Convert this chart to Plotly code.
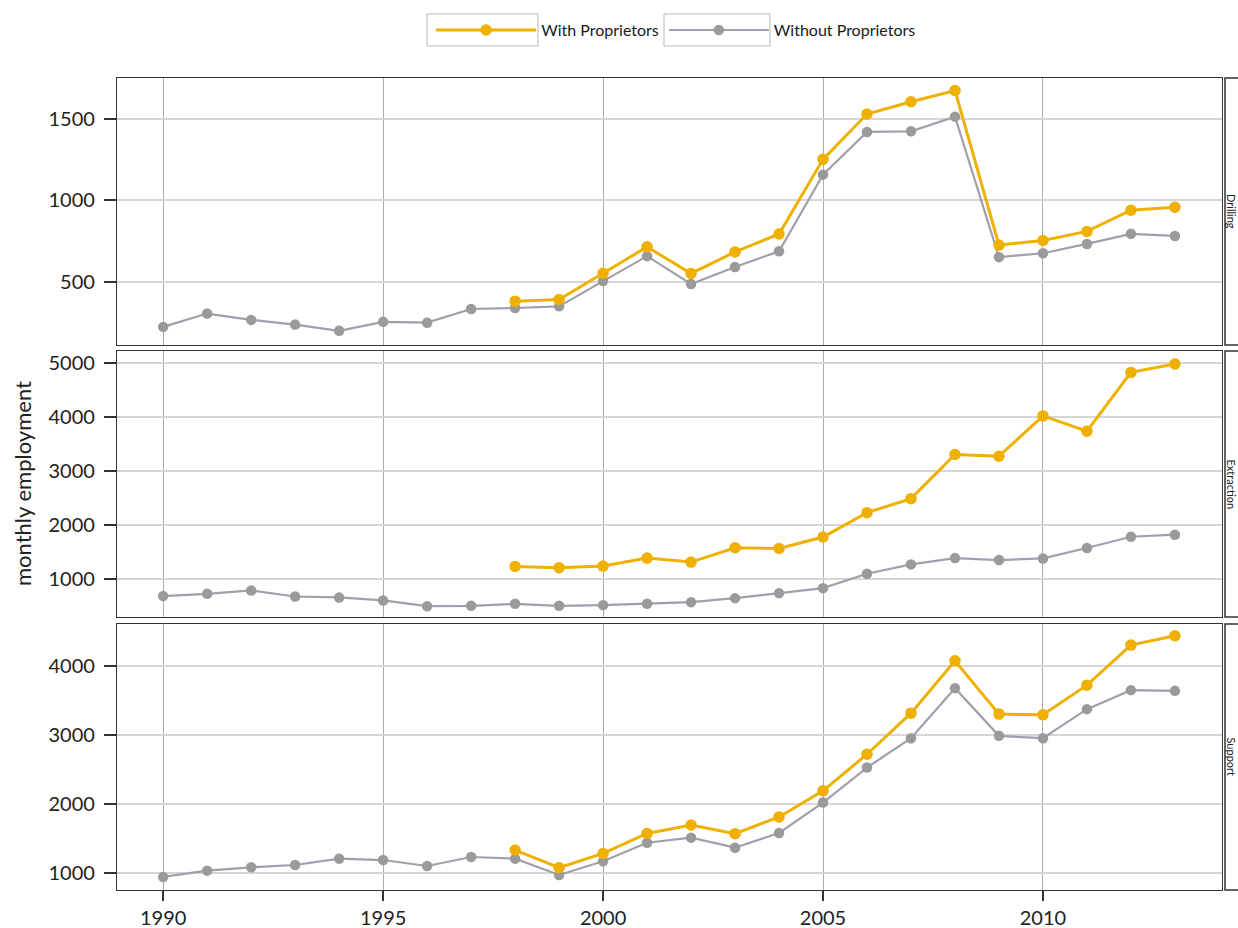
import plotly.graph_objects as go

# ---------------- data ----------------
years = list(range(1990, 2014))
years_with = list(range(1998, 2014))

sectors = ["Drilling", "Extraction", "Support"]

drilling_without = [224, 306, 267, 238, 200, 255, 250, 334, 340, 350, 505, 658,
                    487, 592, 688, 1158, 1420, 1424, 1514, 652, 676, 733, 795, 782]
drilling_with = [382, 392, 553, 715, 552, 684, 794, 1252, 1530, 1605, 1674,
                 726, 754, 810, 940, 958]

extraction_without = [678, 721, 783, 671, 653, 597, 491, 498, 535, 498, 510, 535,
                      566, 640, 733, 826, 1093, 1267, 1384, 1347, 1378, 1571, 1781, 1819]
extraction_with = [1229, 1205, 1236, 1384, 1310, 1577, 1564, 1775, 2228, 2488,
                   3307, 3276, 4025, 3741, 4833, 4988]

support_without = [947, 1038, 1087, 1120, 1212, 1192, 1106, 1236, 1212, 976, 1173, 1442,
                   1516, 1371, 1584, 2024, 2531, 2956, 3681, 2990, 2956, 3377, 3652, 3642]
support_with = [1337, 1082, 1288, 1577, 1700, 1574, 1816, 2194, 2724, 3319,
                4077, 3305, 3295, 3724, 4305, 4440]

without_series = [drilling_without, extraction_without, support_without]
with_series = [drilling_with, extraction_with, support_with]

y_ticks = [[500, 1000, 1500], [1000, 2000, 3000, 4000, 5000], [1000, 2000, 3000, 4000]]
x_ticks = [1990, 1995, 2000, 2005, 2010]

# ---------------- style ----------------
FONT = "Lato"
YELLOW = "#EFB000"
GRAY_LINE = "#a59dad"
GRAY_MARK = "#9a9a9a"
BORDER = "#333333"

W, H = 1238, 928
ML, MR, MT, MB = 117, 16, 78, 38
plot_h = H - MT - MB
px_w = W - ML - MR
panels_px = [(78, 345), (351, 617), (624, 890)]
domains = [[(H - MB - b) / plot_h, (H - MB - t) / plot_h] for t, b in panels_px]
y_ranges = [[113, 1751], [290, 5230], [758, 4610]]
x_range = [1988.95, 2014.07]


def px_x(p):
    return (p - ML) / px_w


def px_y(p):
    return (H - MB - p) / plot_h


fig = go.Figure()

for i in range(3):
    xa = "x" if i == 0 else f"x{i+1}"
    ya = "y" if i == 0 else f"y{i+1}"
    fig.add_trace(go.Scatter(
        x=years, y=without_series[i], mode="lines+markers",
        name="Without Proprietors", legendgroup="wo", showlegend=(i == 0),
        line=dict(color=GRAY_LINE, width=2.2),
        marker=dict(color=GRAY_MARK, size=10.5),
        xaxis=xa, yaxis=ya, legendrank=2))
    fig.add_trace(go.Scatter(
        x=years_with, y=with_series[i], mode="lines+markers",
        name="With Proprietors", legendgroup="w", showlegend=(i == 0),
        line=dict(color=YELLOW, width=3),
        marker=dict(color=YELLOW, size=11.5),
        xaxis=xa, yaxis=ya, legendrank=1))

layout = dict(
    width=W, height=H,
    margin=dict(l=ML, r=MR, t=MT, b=MB, autoexpand=False),
    paper_bgcolor="white", plot_bgcolor="white",
    font=dict(family=FONT, size=20, color="#222222"),
    legend=dict(orientation="h", x=0.506, xanchor="center", y=1.059, yanchor="middle",
                font=dict(size=16, color="#1a1a1a"), bgcolor="rgba(0,0,0,0)",
                traceorder="normal", itemwidth=100),
    showlegend=True,
)

for i in range(3):
    xk = "xaxis" if i == 0 else f"xaxis{i+1}"
    yk = "yaxis" if i == 0 else f"yaxis{i+1}"
    ya = "y" if i == 0 else f"y{i+1}"
    xa = "x" if i == 0 else f"x{i+1}"
    bottom = (i == 2)
    layout[xk] = dict(
        domain=[0, 1], anchor=ya, range=x_range, tickvals=x_ticks,
        showticklabels=bottom, ticks="outside" if bottom else "",
        ticklen=10, tickwidth=2, tickcolor=BORDER,
        showgrid=True, gridcolor="#acacac", gridwidth=1,
        showline=True, mirror=True, linecolor=BORDER, linewidth=1.3,
        zeroline=False, automargin=False,
        matches=None if i == 0 else "x",
    )
    layout[yk] = dict(
        domain=domains[i], anchor=xa, range=y_ranges[i], tickvals=y_ticks[i],
        ticks="outside", ticklen=12, tickwidth=2, tickcolor=BORDER,
        ticklabelstandoff=5,
        showgrid=True, gridcolor="#d6d6d6", gridwidth=1.5,
        showline=True, mirror=True, linecolor=BORDER, linewidth=1.3,
        zeroline=False, automargin=False,
    )
fig.update_layout(**layout)

# boxes around legend keys (ggplot-style key background)
for x0, x1 in [(427, 538), (664, 770)]:
    fig.add_shape(type="rect", xref="paper", yref="paper",
                  x0=px_x(x0), x1=px_x(x1), y0=px_y(46), y1=px_y(14),
                  line=dict(color="#b8b8b8", width=1), fillcolor="rgba(0,0,0,0)",
                  layer="below")

# strips on the right (facet labels)
for i, name in enumerate(sectors):
    fig.add_shape(type="rect", xref="paper", yref="paper",
                  x0=px_x(1225), x1=1.06, y0=domains[i][0], y1=domains[i][1],
                  line=dict(color=BORDER, width=1.5), fillcolor="white", layer="below")
    fig.add_annotation(text=name, xref="paper", yref="paper",
                       x=px_x(1231.5), y=(domains[i][0] + domains[i][1]) / 2,
                       textangle=90, showarrow=False, xanchor="center", yanchor="middle",
                       font=dict(size=11, color="#222222"))

# y axis title
fig.add_annotation(text="monthly employment", xref="paper", yref="paper",
                   x=px_x(22), y=0.5, textangle=-90, showarrow=False,
                   xanchor="center", yanchor="middle", font=dict(size=22, color="#222222"))

fig.write_html("out.html", config={"displayModeBar": False},
               post_script="document.body.style.margin='0';document.body.style.overflow='hidden';")
